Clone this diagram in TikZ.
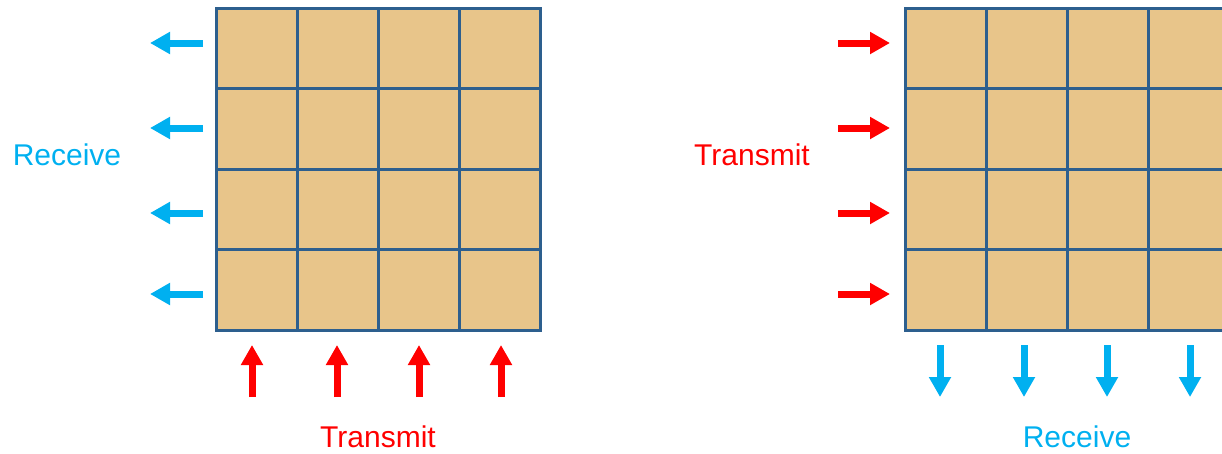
\documentclass[tikz,border=0pt]{standalone}
\usepackage{fontspec}
\setmainfont{Liberation Sans}
\usetikzlibrary{arrows.meta}
\definecolor{tile}{HTML}{E8C58A}
\definecolor{gridline}{HTML}{2D5F8E}
\definecolor{rxblue}{HTML}{00B0F0}
\definecolor{txred}{HTML}{FF0000}
\tikzset{
  array/.style={draw=gridline, fill=tile, line width=3pt, minimum width=324pt,
    minimum height=322pt, inner sep=0pt, outer sep=0pt},
  gridrule/.style={draw=gridline, line width=3pt},
  blockarrow/.style={line width=7pt, -{Triangle[width=21pt,length=20pt]}},
  rx/.style={blockarrow, draw=rxblue},
  tx/.style={blockarrow, draw=txred},
  lbl/.style={font=\fontsize{30}{30}\selectfont, inner sep=0pt}
}
\begin{document}
\begin{tikzpicture}[x=1pt,y=-1pt]
\useasboundingbox (0,0) rectangle (1222,453);
% left array: receive on the left side, transmit from below
\node[array, anchor=north west] (A) at (216,8) {};
\draw[gridrule] (A.north west) ++(81,0) -- ++(0,322) ++(81,-322) -- ++(0,322) ++(81,-322) -- ++(0,322);
\draw[gridrule] (A.north west) ++(0,80.5) -- ++(324,0) ++(-324,80.5) -- ++(324,0) ++(-324,80.5) -- ++(324,0);
\foreach \i/\y in {1/43,2/128,3/213,4/294}{
  \coordinate (ra\i) at (203,\y);
  \coordinate (rb\i) at (150,\y);
  \draw[rx] (ra\i) -- (rb\i);
}
\foreach \i/\x in {1/252,2/337,3/419,4/501}{
  \coordinate (ta\i) at (\x,397);
  \coordinate (tb\i) at (\x,345);
  \draw[tx] (ta\i) -- (tb\i);
}
\node[lbl, text=rxblue] (recvL) at (67,155) {Receive};
\node[lbl, text=txred] (txL) at (378,437) {Transmit};
% right array: transmit into the left side, receive below
\node[array, anchor=north west] (B) at (905,8) {};
\draw[gridrule] (B.north west) ++(81,0) -- ++(0,322) ++(81,-322) -- ++(0,322) ++(81,-322) -- ++(0,322);
\draw[gridrule] (B.north west) ++(0,80.5) -- ++(324,0) ++(-324,80.5) -- ++(324,0) ++(-324,80.5) -- ++(324,0);
\foreach \i/\y in {1/43,2/128,3/213,4/294}{
  \coordinate (sa\i) at (838,\y);
  \coordinate (sb\i) at (890,\y);
  \draw[tx] (sa\i) -- (sb\i);
}
\foreach \i/\x in {1/940,2/1024,3/1107,4/1190}{
  \coordinate (da\i) at (\x,345);
  \coordinate (db\i) at (\x,397);
  \draw[rx] (da\i) -- (db\i);
}
\node[lbl, text=txred] (txR) at (752,155) {Transmit};
\node[lbl, text=rxblue] (recvR) at (1077,437) {Receive};
\end{tikzpicture}
\end{document}
